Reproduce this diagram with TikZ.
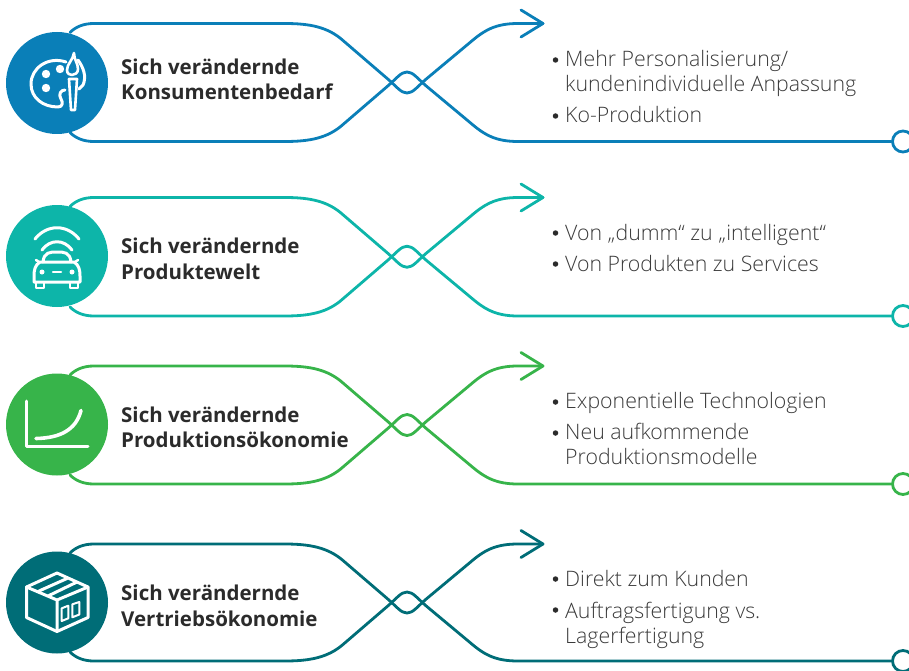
\documentclass[tikz,border=0pt]{standalone}
\usepackage{fontspec}
\setmainfont{Open Sans}
\newfontfamily\lightfont{Open Sans Light}
\definecolor{cblue}{HTML}{0A7FB8}
\definecolor{cteal}{HTML}{0DB5A9}
\definecolor{cgreen}{HTML}{37B44A}
\definecolor{cdark}{HTML}{006D77}
\definecolor{txtdark}{HTML}{2B2B2B}
\definecolor{txtgray}{HTML}{3A3A3A}
\tikzset{
  band/.style={line width=2.8pt,line cap=round,line join=round},
  badge/.style={circle,minimum size=102pt,inner sep=0pt,line width=0pt},
  endring/.style={circle,minimum size=21pt,inner sep=0pt,fill=white,line width=2.8pt},
  headtext/.style={anchor=base west,font=\fontsize{20.5}{25.5}\selectfont\bfseries,text=txtdark,align=left,inner sep=0pt},
  bodytext/.style={anchor=base west,font=\fontsize{21.3}{25}\selectfont\lightfont,text=txtgray,align=left,inner sep=0pt},
  dotmark/.style={circle,fill=txtdark,minimum size=5.5pt,inner sep=0pt},
  icon/.style={white,line width=3pt,line cap=round,line join=round},
}
% #1 name, #2 colour, #3 top y, #4 bottom y
\newcommand{\bandrow}[4]{%
  \pgfmathsetmacro{\mid}{(#3+#4)/2}%
  \pgfmathsetmacro{\hh}{(#4-#3)/2}%
  \coordinate (#1tl) at (70,#3+9);
  \coordinate (#1bl) at (70,#4-9);
  \coordinate (#1tip) at (543,#3);
  \node[endring,draw=#2] (#1end) at (903,#4) {};
  \draw[band,draw=#2] (#1tl) .. controls (76,#3+3) and (84,#3) .. (94,#3)
    -- (285,#3) .. controls (310,#3) and (328,\mid-\hh+3.6) .. (343,\mid-42)
    -- (388,\mid-3.3)
    .. controls (397,\mid+4.5) and (401,\mid+10.5) .. (407,\mid+10.5)
    .. controls (413,\mid+10.5) and (417,\mid+4.5) .. (426,\mid-3.3)
    -- (470,\mid-40)
    .. controls (484,\mid-52) and (495,#3) .. (518,#3) -- (#1tip);
  \draw[band,draw=#2] (#1bl) .. controls (76,#4-3) and (84,#4) .. (94,#4)
    -- (285,#4) .. controls (310,#4) and (328,\mid+\hh-3.6) .. (343,\mid+42)
    -- (388,\mid+3.3)
    .. controls (397,\mid-4.5) and (401,\mid-10.5) .. (407,\mid-10.5)
    .. controls (413,\mid-10.5) and (417,\mid-4.5) .. (426,\mid+3.3)
    -- (470,\mid+40)
    .. controls (484,\mid+52) and (495,#4) .. (518,#4) -- (#1end);
  \draw[band,draw=#2] (521,#3-13.5) -- (#1tip) -- (521,#3+13.5);
}
\begin{document}
\begin{tikzpicture}[x=1pt,y=-1pt]
\useasboundingbox (0,0) rectangle (909,671);
\clip (0,0) rectangle (909,671);
\bandrow{a}{cblue}{23.5}{141.5}
\bandrow{b}{cteal}{197.5}{316}
\bandrow{c}{cgreen}{366}{484}
\bandrow{d}{cdark}{544}{661}
\node[badge,fill=cblue] (ba) at (57,83) {};
\node[badge,fill=cteal] (bb) at (57,256) {};
\node[badge,fill=cgreen] (bc) at (57,424.5) {};
\node[badge,fill=cdark] (bd) at (57,602.5) {};
% palette
\draw[icon] (66,62) .. controls (48,56) and (31,68) .. (31,84)
  .. controls (31,98) and (43,107) .. (58,107)
  .. controls (63,107) and (63,102) .. (61,99)
  .. controls (58,94) and (61,90) .. (65,90);
\draw[icon] (78,60) .. controls (83,67) and (87,76) .. (83,85) -- (79,89);
\fill[white] (46,74) circle (4.2pt) (60,69) circle (4.2pt) (46,88) circle (4.2pt);
\draw[icon,line width=2.6pt] (74,53) .. controls (73,60) and (67,64) .. (67,70) .. controls (67,74) and (70,75) .. (72,75) .. controls (75,75) and (78,73) .. (78,69) .. controls (78,63) and (74,60) .. (74,53);
\draw[icon,line width=2.6pt] (69,79) -- (77,79) -- (75,110) -- (71,110) -- cycle;
% car
\draw[icon] (35,239) .. controls (47,224) and (67,224) .. (79,239);
\draw[icon] (42,250) .. controls (50,239) and (64,239) .. (72,250);
\draw[icon] (43,262) .. controls (44,252) and (50,252) .. (57,252) .. controls (64,252) and (70,252) .. (71,262);
\draw[icon] (40,262) -- (74,262) .. controls (79,265) and (80,270) .. (80,276) -- (80,282) -- (34,282) -- (34,276) .. controls (34,270) and (35,265) .. (40,262) -- cycle;
\draw[icon,line width=2.5pt] (36,260) -- (39,262) (78,260) -- (75,262);
\draw[icon,line width=2.5pt] (36,283) -- (36,288) -- (44,288) -- (44,283);
\draw[icon,line width=2.5pt] (70,283) -- (70,288) -- (78,288) -- (78,283);
\fill[white] (42,272) circle (2.5pt) (72,272) circle (2.5pt);
\draw[icon,line width=2.5pt] (53,272) -- (61,272);
% chart
\draw[icon,line cap=round] (26.5,401) -- (26.5,446.5) -- (88,446.5);
\draw[icon,line width=3.6pt] (36,438.5) .. controls (60,438) and (76,430) .. (81,410.5);
% box
\draw[icon] (57,573) -- (88,587) -- (88,617.5) -- (57,631.5) -- (26.5,617.5) -- (26.5,587) -- cycle;
\draw[icon] (26.5,587) -- (57,600) -- (88,587) (57,600) -- (57,631.5);
\draw[icon] (39,591) -- (67,578.5);
\draw[icon] (49,595.5) -- (77,582);
\draw[icon,line width=2pt,line cap=butt] (61.7,608.3) -- (68.3,605.7) -- (68.3,618.3) -- (61.7,621) -- cycle;
\draw[icon,line width=2pt,line cap=butt] (72.3,604.3) -- (79.3,602) -- (79.3,614.5) -- (72.3,617.3) -- cycle;
% headings
\node[headtext] (ha) at (121,100) {Sich verändernde\\Konsumentenbedarf};
\node[headtext] (hb) at (121,279) {Sich verändernde\\Produktewelt};
\node[headtext] (hc) at (121,447.5) {Sich verändernde\\Produktionsökonomie};
\node[headtext] (hd) at (121,626) {Sich verändernde\\Vertriebsökonomie};
% body
\node[dotmark] (d1) at (555.5,60) {};
\node[bodytext] (t1) at (565,92) {Mehr Personalisierung/\\kundenindividuelle Anpassung};
\node[dotmark] (d2) at (555.5,116) {};
\node[bodytext] (t2) at (565,123) {Ko-Produktion};
\node[dotmark] (d3) at (555.5,233) {};
\node[bodytext] (t3) at (565,240) {Von „dumm“ zu „intelligent“};
\node[dotmark] (d4) at (555.5,264) {};
\node[bodytext] (t4) at (565,271) {Von Produkten zu Services};
\node[dotmark] (d5) at (555.5,402) {};
\node[bodytext] (t5) at (565,408) {Exponentielle Technologien};
\node[dotmark] (d6) at (555.5,433) {};
\node[bodytext] (t6) at (565,464) {Neu aufkommende\\Produktionsmodelle};
\node[dotmark] (d7) at (555.5,579) {};
\node[bodytext] (t7) at (565,586) {Direkt zum Kunden};
\node[dotmark] (d8) at (555.5,610) {};
\node[bodytext] (t8) at (565,643) {Auftragsfertigung vs.\\Lagerfertigung};
\end{tikzpicture}
\end{document}
